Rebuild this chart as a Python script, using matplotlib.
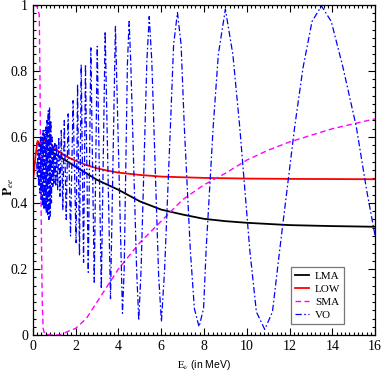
import matplotlib
matplotlib.use('Agg')
import matplotlib.pyplot as plt
from matplotlib.ticker import MultipleLocator

plt.rcParams['font.family'] = ['Liberation Serif', 'DejaVu Serif']
plt.rcParams['mathtext.fontset'] = 'stix'

# LMA (black)
lma_e = [0.2, 0.5, 1.0, 1.5, 2.0, 2.5, 3.0, 3.5, 4.0, 5.0, 6.0, 7.0, 8.0, 9.0, 10.0, 12.0, 14.0, 16.0]
lma_p = [0.58, 0.57, 0.55, 0.53, 0.51, 0.49, 0.47, 0.455, 0.44, 0.405, 0.38, 0.365, 0.352, 0.345, 0.34, 0.333, 0.33, 0.328]

# LOW (red)
low_e = [0.03, 0.12, 0.22, 0.37, 0.55, 0.8, 1.2, 1.6, 2.0, 2.5, 3.0, 3.5, 4.0, 5.0, 6.0, 8.0, 10.0, 12.0, 16.0]
low_p = [0.48, 0.54, 0.588, 0.577, 0.59, 0.582, 0.556, 0.54, 0.528, 0.515, 0.505, 0.498, 0.492, 0.485, 0.48, 0.476, 0.474, 0.473, 0.472]

# SMA (magenta dashed)
sma_e = [0.05, 0.2, 0.3, 0.33, 0.36, 0.4, 0.44, 0.48, 0.55, 0.8, 1.2, 1.4, 1.6, 2.0, 2.5, 3.0, 3.5, 4.0, 5.0,
         6.0, 7.0, 8.0, 9.0, 10.0, 11.0, 12.0, 13.0, 14.0, 15.0, 16.0]
sma_p = [1.0, 0.995, 0.97, 0.8, 0.55, 0.3, 0.1, 0.02, 0.003, 0.0, 0.0, 0.003, 0.01, 0.02, 0.05, 0.1, 0.15, 0.2, 0.28,
         0.345, 0.41, 0.455, 0.49, 0.53, 0.56, 0.585, 0.605, 0.625, 0.64, 0.655]

# VO (blue dash-dot)
vo_e = [0.18, 0.21, 0.24, 0.27, 0.30, 0.33, 0.36, 0.39, 0.42, 0.45, 0.48, 0.51, 0.54, 0.57, 0.60, 0.63,
        0.66, 0.69, 0.72, 0.75, 0.78, 0.81, 0.84, 0.87, 0.90, 0.93, 0.96, 0.99, 1.03, 1.07, 1.11, 1.16,
        1.21, 1.27, 1.33, 1.40, 1.47, 1.56, 1.65, 1.76, 1.88,
        2.02, 2.09, 2.18, 2.26, 2.37, 2.46, 2.59, 2.71, 2.87, 3.01, 3.20, 3.38, 3.63, 3.86,
        4.19, 4.27, 4.42, 4.50, 4.58, 4.85, 4.95, 5.06, 5.33, 5.44, 5.56, 5.88,
        6.01, 6.16, 6.43, 6.58, 6.76, 6.93, 7.08, 7.36, 7.55, 7.77, 7.98, 8.10, 8.43, 8.67,
        9.00, 9.35, 9.67, 10.14, 10.45, 10.84, 11.20, 11.54, 12.24, 12.63, 13.05, 13.49,
        13.95, 14.50, 15.12, 15.60, 16.0]
vo_p = [0.52, 0.48, 0.56, 0.45, 0.58, 0.43, 0.60, 0.41, 0.60, 0.39, 0.62, 0.38, 0.62, 0.38, 0.63, 0.37,
        0.65, 0.36, 0.68, 0.35, 0.69, 0.36, 0.65, 0.40, 0.60, 0.45, 0.57, 0.46, 0.58, 0.45, 0.58, 0.44,
        0.60, 0.42, 0.62, 0.38, 0.65, 0.35, 0.67, 0.30, 0.71,
        0.28, 0.76, 0.24, 0.82, 0.22, 0.82, 0.19, 0.87, 0.16, 0.875, 0.14, 0.92, 0.11, 0.935,
        0.066, 0.2, 0.82, 0.95, 0.82, 0.2, 0.045, 0.2, 0.83, 0.965, 0.83, 0.18,
        0.04, 0.2, 0.631, 0.88, 0.977, 0.88, 0.631, 0.258, 0.08, 0.025, 0.08, 0.258, 0.631, 0.85,
        0.987, 0.85, 0.631, 0.258, 0.07, 0.017, 0.07, 0.258, 0.631, 0.81, 0.95, 0.997,
        0.95, 0.81, 0.631, 0.44, 0.3]

fig = plt.figure(figsize=(3.82, 3.82), dpi=100)
ax = fig.add_axes([0.086, 0.123, 0.896, 0.864])

ax.plot(lma_e, lma_p, color='black', lw=1.3, label='LMA')
ax.plot(low_e, low_p, color='red', lw=1.3, label='LOW')
ax.plot(sma_e, sma_p, color='magenta', lw=1.0, linestyle=(0, (4, 2.5)), label='SMA')
ax.plot(vo_e, vo_p, color='blue', lw=0.9, linestyle=(0, (5, 2, 1.3, 2)), label='VO')

ax.set_xlim(0, 16)
ax.set_ylim(0, 1)
ax.xaxis.set_major_locator(MultipleLocator(2))
ax.xaxis.set_minor_locator(MultipleLocator(0.2))
ax.yaxis.set_minor_locator(MultipleLocator(0.025))
ax.set_yticks([0, 0.2, 0.4, 0.6, 0.8, 1.0])
ax.set_yticklabels(['0', '0.2', '0.4', '0.6', '0.8', '1'])
ax.tick_params(which='both', direction='in', top=True, right=True, labelsize=10, width=0.8)
ax.tick_params(which='major', length=5)
ax.tick_params(which='minor', length=2.5)
for s in ax.spines.values():
    s.set_linewidth(0.9)

ax.set_xlabel(r'$\mathrm{E}_{\nu}$ (in MeV)', fontsize=7.5, family=['Liberation Sans'])
ax.xaxis.set_label_coords(0.5, -0.07)
ax.set_ylabel(r'$\mathbf{P}_{ee}$', fontsize=9.5)
ax.yaxis.set_label_coords(-0.05, 0.45)

leg = ax.legend(loc='lower left', bbox_to_anchor=(0.754, 0.033), fontsize=8, frameon=True,
                fancybox=False, edgecolor='#555555', handlelength=1.3, labelspacing=0.3,
                handletextpad=0.5, borderpad=0.35, borderaxespad=0)
leg.get_frame().set_linewidth(0.9)

fig.savefig('out.png', dpi=100)
